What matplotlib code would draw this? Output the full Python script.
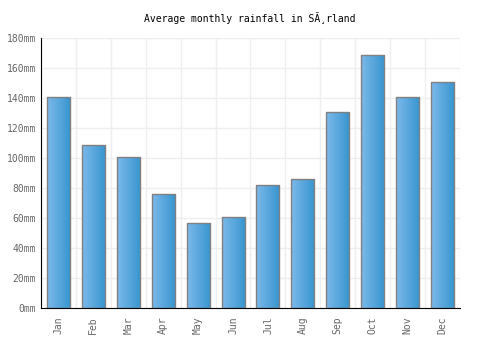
import matplotlib
matplotlib.use('Agg')
import matplotlib.pyplot as plt
import numpy as np

months = ['Jan', 'Feb', 'Mar', 'Apr', 'May', 'Jun', 'Jul', 'Aug', 'Sep', 'Oct', 'Nov', 'Dec']
rainfall = [141, 109, 101, 76, 57, 61, 82, 86, 131, 169, 141, 151]
yticks = [0, 20, 40, 60, 80, 100, 120, 140, 160, 180]

plt.rcParams['font.family'] = 'DejaVu Sans Mono'

fig = plt.figure(figsize=(5, 3.5), dpi=100)
ax = fig.add_axes([0.082, 0.12, 0.838, 0.771])

x = np.arange(len(months))
ax.set_xlim(-0.5, len(months) - 0.5)
ax.set_ylim(0, 180)

# grid: horizontal at ticks, vertical at slot boundaries
for yv in yticks:
    ax.axhline(yv, color='#eeeeee', lw=1, zorder=0)
for xv in np.arange(-0.5, len(months), 1.0):
    ax.axvline(xv, color='#eeeeee', lw=1, zorder=0)

# gradient bars
grad = np.linspace(0, 1, 100).reshape(1, -1)
cmap = matplotlib.colors.LinearSegmentedColormap.from_list('b', ['#7cb9ea', '#3795cf'])
bars = ax.bar(x, rainfall, width=0.66, facecolor='none', edgecolor='#808080', lw=1, zorder=3)
for b in bars:
    bx, by = b.get_x(), b.get_y()
    bw, bh = b.get_width(), b.get_height()
    im = ax.imshow(grad, cmap=cmap, aspect='auto', extent=[bx, bx + bw, by, by + bh],
                   zorder=2, interpolation='bilinear')
    im.set_clip_path(b)

ax.set_xlim(-0.5, len(months) - 0.5)
ax.set_ylim(0, 180)

ax.set_yticks(yticks)
ax.set_yticklabels([f'{v}mm' for v in yticks])
ax.set_xticks(x)
ax.set_xticklabels(months, rotation=90)
ax.tick_params(axis='both', length=0, colors='#666666', labelsize=7)
ax.tick_params(axis='x', pad=6)

for s in ['top', 'right']:
    ax.spines[s].set_visible(False)
ax.spines['left'].set_color('black')
ax.spines['bottom'].set_color('black')

fig.text(0.5, 0.948, 'Average monthly rainfall in SÃ¸rland', ha='center', va='center',
         fontsize=7, color='black')

fig.savefig('out.png', dpi=100)
